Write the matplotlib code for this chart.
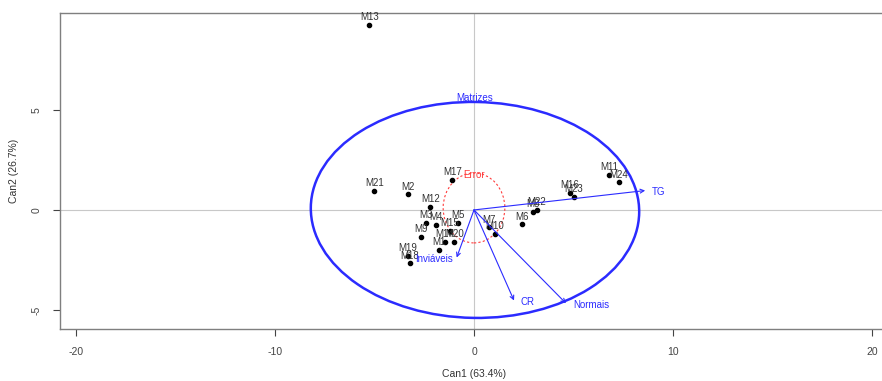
import matplotlib
matplotlib.use('Agg')
import matplotlib.pyplot as plt
from matplotlib.patches import Ellipse

plt.rcParams['font.family'] = ['Liberation Sans', 'DejaVu Sans']
plt.rcParams['axes.unicode_minus'] = False

# canonical scores of each sample (Can1, Can2)
NAMES = ['M1', 'M2', 'M3', 'M4', 'M5', 'M6', 'M7', 'M8', 'M9', 'M10', 'M11', 'M12',
         'M13', 'M14', 'M15', 'M16', 'M17', 'M18', 'M19', 'M20', 'M21', 'M22', 'M23', 'M24']
CAN1 = [-1.74, -3.33, -2.41, -1.92, -0.79, 2.40, 0.77, 2.98, -2.66, 1.06, 6.78, -2.20,
        -5.26, -1.46, -1.21, 4.82, -1.09, -3.22, -3.33, -0.99, -5.01, 3.15, 5.03, 7.29]
CAN2 = [-2.00, 0.78, -0.65, -0.75, -0.63, -0.72, -0.87, -0.08, -1.33, -1.20, 1.75, 0.17,
        9.25, -1.58, -1.03, 0.87, 1.50, -2.67, -2.28, -1.58, 0.95, 0.00, 0.67, 1.38]

# structure vectors of the response variables
VARS = ['TG', 'CR', 'Normais', 'Inviáveis']
VEC1 = [8.60, 2.01, 4.62, -0.87]
VEC2 = [0.97, -4.53, -4.67, -2.38]

# H (Matrizes) and E (Error) ellipses: center, half widths, angle
H_ELL = (0.05, 0.0, 8.25, 5.40, -1.0)
E_ELL = (0.0, 0.1, 1.55, 1.75, 0.0)

BLUE = '#2b2bff'
RED = '#ff3b3b'

fig = plt.figure(figsize=(8.82, 3.81), dpi=100)
ax = fig.add_axes([60/882, 52.5/381, 828/882, 315.5/381])
ax.set_xlim(-20.8, 20.8)
ax.set_ylim(-5.93, 9.85)

ax.axhline(0, color='#c8c8c8', lw=0.8, zorder=0)
ax.axvline(0, color='#c8c8c8', lw=0.8, zorder=0)

# ellipses
cx, cy, a, b, ang = H_ELL
ax.add_patch(Ellipse((cx, cy), 2*a, 2*b, angle=ang, fill=False, ec=BLUE, lw=1.8))
ax.text(cx, cy + b + 0.2, 'Matrizes', color=BLUE, fontsize=7, ha='center', va='center')
cx, cy, a, b, ang = E_ELL
ax.add_patch(Ellipse((cx, cy), 2*a, 2*b, angle=ang, fill=False, ec=RED, lw=0.8,
                     ls=(0, (2, 2))))
ax.text(cx, cy + b - 0.1, 'Error', color=RED, fontsize=7, ha='center', va='center')

# points + labels
ax.scatter(CAN1, CAN2, s=9, c='black', zorder=3)
for n, x, y in zip(NAMES, CAN1, CAN2):
    ax.annotate(n, (x, y), xytext=(0, 5.5), textcoords='offset points',
                ha='center', va='center', fontsize=7, color='#333333')

# variable vectors
for v, x, y in zip(VARS, VEC1, VEC2):
    ax.annotate('', xy=(x, y), xytext=(0, 0),
                arrowprops=dict(arrowstyle='->', color=BLUE, lw=0.8,
                                mutation_scale=7, shrinkA=0, shrinkB=0))
    if x > 0:
        ax.annotate(v, (x, y), xytext=(5, -1), textcoords='offset points',
                    ha='left', va='center', fontsize=7, color=BLUE)
    else:
        ax.annotate(v, (x, y), xytext=(-3, -1), textcoords='offset points',
                    ha='right', va='center', fontsize=7, color=BLUE)

ax.set_xticks([-20, -10, 0, 10, 20])
ax.set_yticks([-5, 0, 5])
ax.set_yticklabels(['-5', '0', '5'], rotation=90, va='center')
ax.tick_params(labelsize=7.5, colors='#444444', length=5, width=0.8, pad=8)
for s in ax.spines.values():
    s.set_color('#7f7f7f')
    s.set_linewidth(1.0)

ax.set_xlabel('Can1 (63.4%)', fontsize=7.5, color='#333333', labelpad=9)
ax.set_ylabel('Can2 (26.7%)', fontsize=7.5, color='#333333', labelpad=9)

fig.savefig('out.png', dpi=100)
